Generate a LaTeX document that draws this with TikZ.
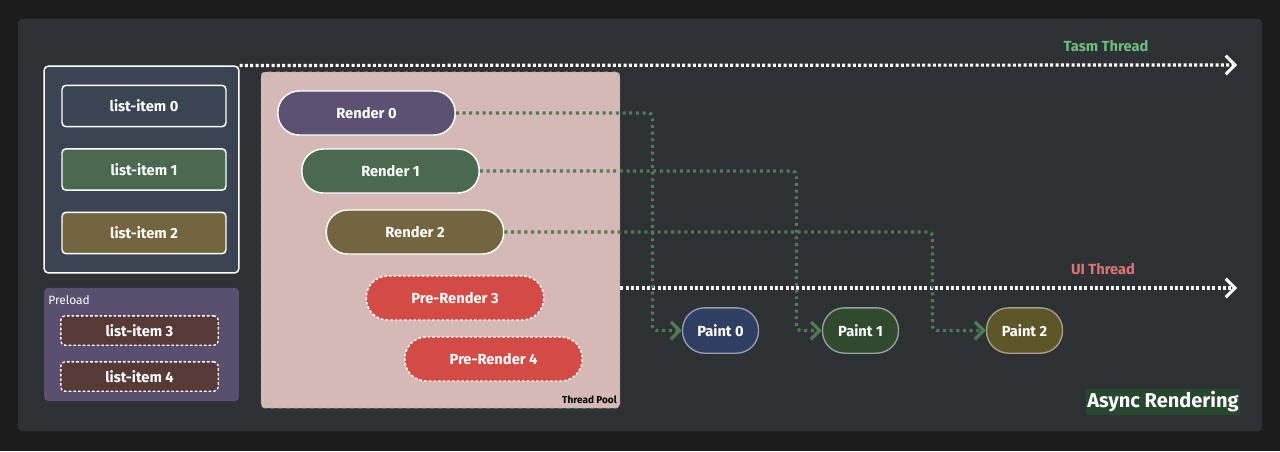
\documentclass[tikz,border=0pt]{standalone}
\usepackage{fontspec}
\setmainfont{Fira Sans}
\usepackage{xcolor}
\usetikzlibrary{arrows.meta, positioning}

\definecolor{pagebg}{HTML}{1C1C1C}
\definecolor{panelbg}{HTML}{2E3133}
\definecolor{listbg}{HTML}{3A4453}
\definecolor{itemgreen}{HTML}{4A6A4F}
\definecolor{itemolive}{HTML}{72653F}
\definecolor{itempurple}{HTML}{5C5073}
\definecolor{preloadbg}{HTML}{594F6E}
\definecolor{itembrown}{HTML}{573A38}
\definecolor{poolbg}{HTML}{D5B9B7}
\definecolor{prered}{HTML}{D44A45}
\definecolor{paintblue}{HTML}{2E3F63}
\definecolor{paintgreen}{HTML}{2F4A2F}
\definecolor{paintolive}{HTML}{5B5528}
\definecolor{flowgreen}{HTML}{4E7A55}
\definecolor{tasmgreen}{HTML}{6DBE7E}
\definecolor{uired}{HTML}{E07474}
\definecolor{tagbg}{HTML}{27472E}

\tikzset{
	box/.style = {rectangle, inner sep = 0pt, text = white,
		font = \bfseries\fontsize{11}{13}\selectfont},
	listitem/.style = {box, draw = white, line width = 1.1pt, rounded corners = 3pt,
		minimum width = 123pt, minimum height = 31pt},
	preitem/.style = {box, draw = white, line width = 1pt, dash pattern = on 2pt off 1.5pt,
		rounded corners = 3pt, fill = itembrown, minimum width = 118pt, minimum height = 22pt},
	pill/.style = {box, draw = white, line width = 1.1pt, rounded corners = 16pt,
		minimum width = 133pt, minimum height = 33pt},
	prepill/.style = {pill, fill = prered, dash pattern = on 2pt off 1.5pt},
	paint/.style = {box, line width = 1pt, rounded corners = 16.5pt,
		minimum width = 57pt, minimum height = 34pt},
	thread/.style = {white, line width = 2.4pt, dash pattern = on 2.2pt off 1.8pt,
		-{Straight Barb[length = 7pt, width = 14pt, line width = 2.2pt]}},
	flow/.style = {flowgreen, line width = 2.4pt, dash pattern = on 2.2pt off 2.8pt,
		rounded corners = 3pt,
		-{Straight Barb[length = 6.5pt, width = 13pt, line width = 2.4pt]}}
}

\begin{document}
\begin{tikzpicture}[x = 0.75pt, y = -0.75pt]
	\fill[pagebg] (0,0) rectangle (1280,451);
	\fill[panelbg, rounded corners = 3pt] (18,19) rectangle (1262,431);

	\node[box, draw = white, line width = 1.1pt, fill = listbg, rounded corners = 3pt,
		minimum width = 146pt, minimum height = 155pt] (listbox) at (141.5,169.5) {};
	\node[listitem, fill = listbg] (item0) at (144,106) {list-item 0};
	\node[listitem, fill = itemgreen] (item1) at (144,169.5) {list-item 1};
	\node[listitem, fill = itemolive] (item2) at (144,233) {list-item 2};

	\node[box, fill = preloadbg, rounded corners = 3pt,
		minimum width = 146pt, minimum height = 85pt] (preload) at (141.5,344.5) {};
	\node[text = white, font = \fontsize{9}{11}\selectfont, anchor = west, inner sep = 0pt]
		(preloadlabel) at (48,300) {Preload};
	\node[preitem] (item3) at (139.5,330.5) {list-item 3};
	\node[preitem] (item4) at (139.5,376.5) {list-item 4};

	\node[box, fill = poolbg, draw = gray!60, line width = 0.6pt, dashed, rounded corners = 3pt,
		minimum width = 269pt, minimum height = 252pt] (pool) at (440.5,240) {};
	\node[anchor = south east, inner sep = 0pt, font = \bfseries\fontsize{7.5}{9}\selectfont]
		(poollabel) at (617,404) {Thread Pool};

	\node[pill, fill = itempurple] (render0) at (366.5,113) {Render 0};
	\node[pill, fill = itemgreen] (render1) at (390.5,171) {Render 1};
	\node[pill, fill = itemolive] (render2) at (415,232) {Render 2};
	\node[prepill] (render3) at (455,298) {Pre-Render 3};
	\node[prepill] (render4) at (493.5,359) {Pre-Render 4};

	\node[paint, fill = paintblue, draw = paintblue!50!white] (paint0) at (720.5,330.5) {Paint 0};
	\node[paint, fill = paintgreen, draw = paintgreen!50!white] (paint1) at (860.5,330.5) {Paint 1};
	\node[paint, fill = paintolive, draw = paintolive!55!white] (paint2) at (1024.5,330.5) {Paint 2};

	\coordinate (tasmend) at (1237,65);
	\coordinate (uiend) at (1237,288);
	\draw[thread] (listbox.north east) -- (tasmend);
	\draw[thread] (pool.east |- uiend) -- (uiend);
	\node[text = tasmgreen, font = \bfseries\fontsize{11}{13}\selectfont] (tasmlabel) at (1106,46) {Tasm Thread};
	\node[text = uired, font = \bfseries\fontsize{11}{13}\selectfont] (uilabel) at (1103,269) {UI Thread};

	\draw[flow] (render0.east) -| ([xshift = -22pt]paint0.west) -- (paint0.west);
	\draw[flow] (render1.east) -| ([xshift = -19pt]paint1.west) -- (paint1.west);
	\draw[flow] (render2.east) -| ([xshift = -40pt]paint2.west) -- (paint2.west);

	\node[box, fill = tagbg, minimum width = 115pt, minimum height = 20pt,
		font = \bfseries\fontsize{15}{17}\selectfont] (tag) at (1163,402) {Async Rendering};
\end{tikzpicture}
\end{document}
